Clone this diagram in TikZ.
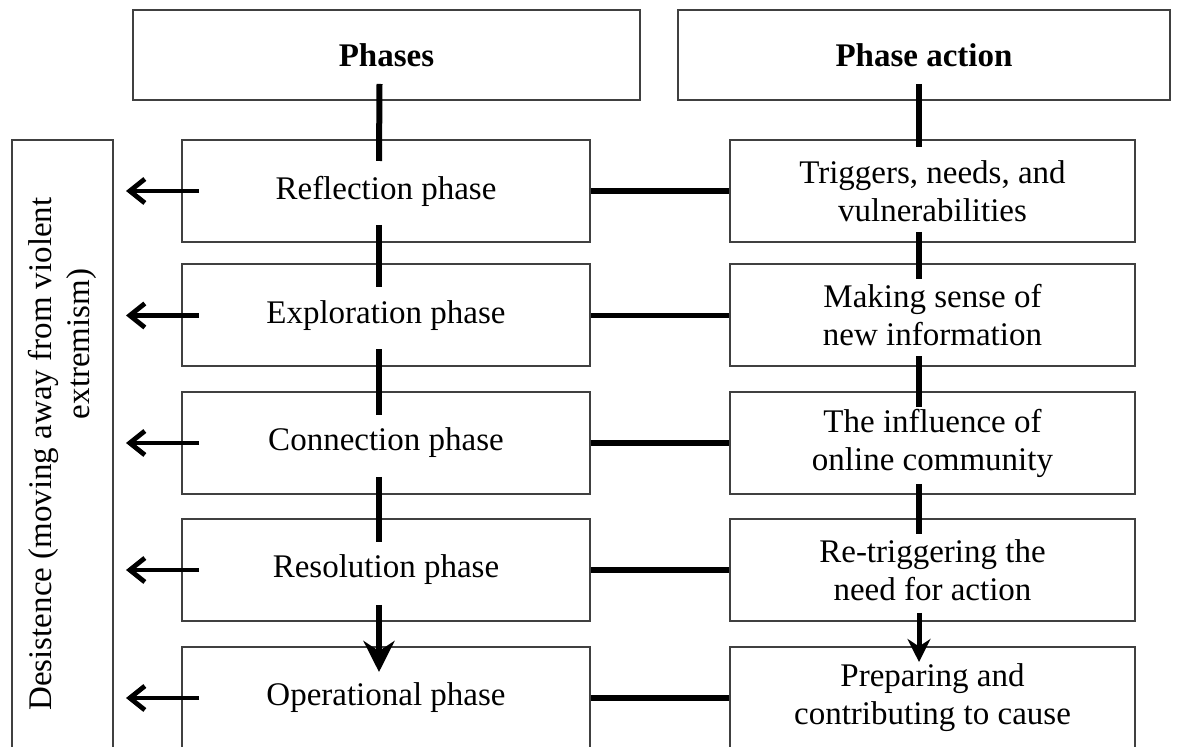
\documentclass[tikz,border=0pt]{standalone}
\usepackage{fontspec}
\setmainfont{Liberation Serif}
\usetikzlibrary{arrows.meta,calc}

\tikzset{box/.style = {draw = black!75, line width = 1pt, inner sep = 0pt, align = center,
                       minimum height = 51pt, font = \fontsize{16.5}{19}\selectfont},
         headbox/.style = {box, minimum height = 45pt, font = \fontsize{16.5}{19}\selectfont\bfseries},
         phasebox/.style = {box, minimum width = 204pt},
         actionbox/.style = {box, minimum width = 202.5pt},
         tie/.style = {line width = #1},
         tie/.default = 3pt,
         backarrow/.style = {line width = 2.4pt, -{Straight Barb[length = 7.5pt, width = 12pt]}},
         godown/.style = {-{Stealth[length = #1, width = #1]}}
        }

\begin{document}
\begin{tikzpicture}[x = 0.5pt, y = -0.5pt]
  \useasboundingbox (0, 0) rectangle (1182, 747);
  \clip (0, 0) rectangle (1182, 747);

  \node[headbox, minimum width = 253.5pt] (phases) at (386.5, 55) {Phases};
  \node[headbox, minimum width = 246pt] (actions) at (924, 55) {Phase action};
  \node[box, rotate = 90, minimum width = 314pt, minimum height = 50.5pt] (desist) at (62.5, 454)
       {Desistence (moving away from violent\\\hspace*{110pt}extremism)};

  \node[phasebox] (reflection) at (386, 191) {Reflection phase};
  \node[phasebox] (exploration) at (386, 315.5) {Exploration phase};
  \node[phasebox] (connection) at (386, 443) {Connection phase};
  \node[phasebox] (resolution) at (386, 570) {Resolution phase};
  \node[phasebox] (operational) at (386, 698) {Operational phase};

  \node[actionbox] (triggers) at (932.5, 191) {Triggers, needs, and\\vulnerabilities};
  \node[actionbox] (sense) at (932.5, 315.5) {Making sense of\\new information};
  \node[actionbox] (influence) at (932.5, 443) {The influence of\\online community};
  \node[actionbox] (retrigger) at (932.5, 570) {Re-triggering the\\need for action};
  \node[actionbox] (preparing) at (932.5, 698) {Preparing and\\contributing to cause};

  \draw[tie] ([xshift = -3.5pt, yshift = 8.5pt]phases.south) -- ([xshift = -3.5pt, yshift = -11pt]reflection.north);
  \draw[tie] ([xshift = -3.5pt, yshift = 9pt]reflection.south) -- ([xshift = -3.5pt, yshift = -12pt]exploration.north);
  \draw[tie] ([xshift = -3.5pt, yshift = 9pt]exploration.south) -- ([xshift = -3.5pt, yshift = -12pt]connection.north);
  \draw[tie] ([xshift = -3.5pt, yshift = 9pt]connection.south) -- ([xshift = -3.5pt, yshift = -12pt]resolution.north);
  \draw[tie, godown = 15.5pt] ([xshift = -3.5pt, yshift = 8.5pt]resolution.south) -- ([xshift = -3.5pt, yshift = -13pt]operational.north);

  \draw[tie] ([xshift = -2.5pt, yshift = 8.5pt]actions.south) -- ([xshift = -6.75pt, yshift = -4pt]triggers.north);
  \draw[tie] ([xshift = -6.75pt, yshift = 5.5pt]triggers.south) -- ([xshift = -6.75pt, yshift = -8pt]sense.north);
  \draw[tie] ([xshift = -6.75pt, yshift = 5.5pt]sense.south) -- ([xshift = -6.75pt, yshift = -8pt]influence.north);
  \draw[tie] ([xshift = -6.75pt, yshift = 5.5pt]influence.south) -- ([xshift = -6.75pt, yshift = -8pt]retrigger.north);
  \draw[tie = 2.5pt, godown = 11.5pt] ([xshift = -6.75pt, yshift = 4.5pt]retrigger.south) -- ([xshift = -6.75pt, yshift = -8pt]preparing.north);

  \draw[tie = 2.6pt] (reflection.east) -- (triggers.west);
  \draw[tie = 2.6pt] (exploration.east) -- (sense.west);
  \draw[tie = 2.6pt] (connection.east) -- (influence.west);
  \draw[tie = 2.6pt] (resolution.east) -- (retrigger.west);
  \draw[tie = 2.6pt] (operational.east) -- (preparing.west);

  \draw[backarrow] ([xshift = 9pt]reflection.west) -- ($(desist.south |- reflection.west) + (12, 0)$);
  \draw[backarrow] ([xshift = 9pt]exploration.west) -- ($(desist.south |- exploration.west) + (12, 0)$);
  \draw[backarrow] ([xshift = 9pt]connection.west) -- ($(desist.south |- connection.west) + (12, 0)$);
  \draw[backarrow] ([xshift = 9pt]resolution.west) -- ($(desist.south |- resolution.west) + (12, 0)$);
  \draw[backarrow] ([xshift = 9pt]operational.west) -- ($(desist.south |- operational.west) + (12, 0)$);
\end{tikzpicture}
\end{document}
